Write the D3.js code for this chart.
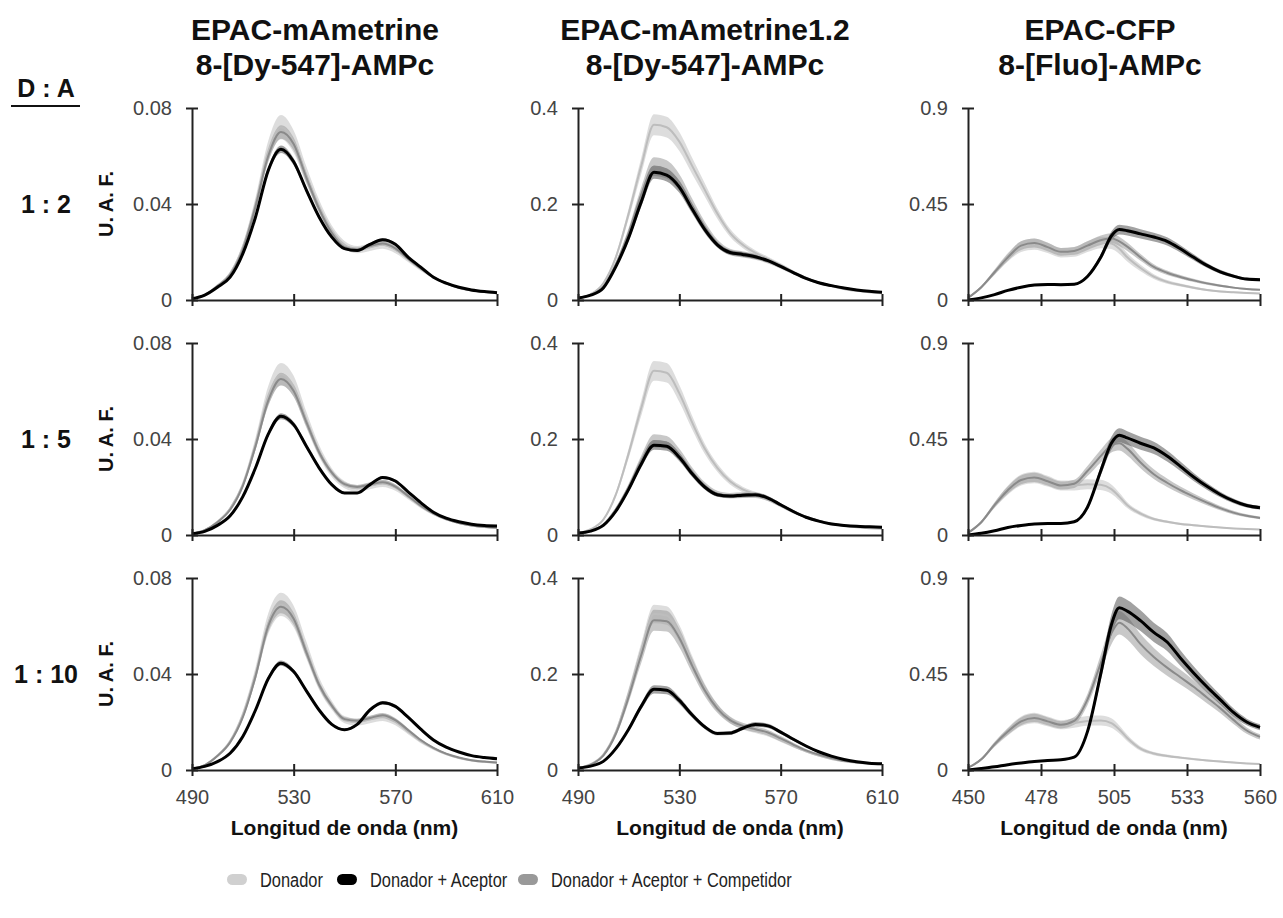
<!DOCTYPE html>
<html>
<head>
<meta charset="utf-8">
<script src="https://cdn.jsdelivr.net/npm/d3@7"></script>
<style>
  body { margin: 0; background: #fff; }
  svg { font-family: "Liberation Sans", Arial, Helvetica, sans-serif; }
  .axis path, .axis line { stroke: #222; stroke-width: 2; }
  .axis text { font-size: 20px; fill: #444; }
</style>
</head>
<body>
<script>
// column / row labels
var colTitles = [["EPAC-mAmetrine", "8-[Dy-547]-AMPc"],
                 ["EPAC-mAmetrine1.2", "8-[Dy-547]-AMPc"],
                 ["EPAC-CFP", "8-[Fluo]-AMPc"]];
var ratios = ["1 : 2", "1 : 5", "1 : 10"];
var seriesNames = ["Donador", "Donador + Aceptor", "Donador + Aceptor + Competidor"];

// wavelengths (nm)
var wlAmet = [490,495,500,505,510,515,520,525,530,535,540,545,550,555,560,565,570,575,580,585,590,595,600,605,610];
var wlCfp  = [450,455,460,465,470,475,480,485,490,495,500,504,507,510,515,520,525,530,535,540,545,550,555,560];

// axes
var xDomain = [[490, 610], [490, 610], [450, 560]];
var xTicks = [[490,530,570,610], [490,530,570,610], [450,477.5,505,532.5,560]];
var xTickLabels = [["490","530","570","610"], ["490","530","570","610"], ["450","478","505","533","560"]];
var yMax = [0.08, 0.4, 0.9];
var yTicks = [[0,0.04,0.08], [0,0.2,0.4], [0,0.45,0.9]];
var yTickLabels = [["0","0.04","0.08"], ["0","0.2","0.4"], ["0","0.45","0.9"]];

// relative spread of the shaded bands, per column: [donador, d+a, d+a+c]
var relErr = [[0.07, 0.025, 0.04], [0.06, 0.05, 0.07], [0.10, 0.07, 0.08]];

// --- EPAC-mAmetrine, 8-[Dy-547]-AMPc
var m1r1Don = [0.0005,0.002,0.006,0.011,0.022,0.04,0.062,0.072,0.066,0.052,0.039,0.029,0.023,0.021,0.022,0.023,0.021,0.017,0.013,0.0095,0.007,0.005,0.004,0.0033,0.0028];
var m1r1DA  = [0.0005,0.002,0.0053,0.0095,0.0193,0.0346,0.054,0.0628,0.0576,0.0458,0.0346,0.0262,0.0214,0.0206,0.0232,0.0251,0.0232,0.0179,0.0137,0.0095,0.007,0.0053,0.0042,0.0035,0.003];
var m1r1DAC = [0.0005,0.002,0.0058,0.0105,0.021,0.039,0.06,0.07,0.065,0.051,0.038,0.028,0.022,0.021,0.0225,0.0235,0.0215,0.0172,0.0132,0.0095,0.007,0.0052,0.004,0.0034,0.003];

var m1r2Don = [0.0005,0.002,0.0055,0.011,0.021,0.038,0.058,0.067,0.062,0.048,0.035,0.026,0.021,0.0195,0.0205,0.0215,0.0198,0.016,0.012,0.0088,0.0065,0.005,0.004,0.0033,0.003];
var m1r2DA  = [0.0005,0.0015,0.004,0.008,0.016,0.028,0.042,0.0495,0.046,0.037,0.028,0.021,0.0175,0.0175,0.021,0.024,0.0225,0.018,0.0135,0.0095,0.007,0.0055,0.0045,0.004,0.0038];
var m1r2DAC = [0.0005,0.002,0.0053,0.0105,0.0205,0.037,0.056,0.065,0.06,0.047,0.0345,0.026,0.0212,0.02,0.021,0.022,0.0202,0.0163,0.0122,0.009,0.0066,0.005,0.004,0.0034,0.003];

var m1r3Don = [0.0005,0.002,0.006,0.012,0.023,0.04,0.061,0.069,0.064,0.05,0.036,0.027,0.021,0.02,0.021,0.022,0.02,0.016,0.012,0.009,0.0066,0.005,0.004,0.0034,0.003];
var m1r3DA  = [0.0005,0.0015,0.0035,0.007,0.014,0.025,0.038,0.0445,0.041,0.033,0.025,0.019,0.0168,0.019,0.025,0.028,0.0265,0.022,0.017,0.0125,0.0095,0.0075,0.006,0.0052,0.0047];
var m1r3DAC = [0.0005,0.002,0.0058,0.0115,0.022,0.039,0.06,0.068,0.063,0.049,0.0355,0.0268,0.0212,0.0205,0.0217,0.0228,0.0208,0.0167,0.0125,0.0092,0.0068,0.0052,0.0041,0.0035,0.0031];

// --- EPAC-mAmetrine1.2, 8-[Dy-547]-AMPc
var m2r1Don = [0.004,0.012,0.035,0.09,0.18,0.28,0.365,0.36,0.33,0.28,0.23,0.18,0.14,0.115,0.098,0.085,0.072,0.058,0.046,0.036,0.029,0.023,0.019,0.016,0.014];
var m2r1DA  = [0.004,0.01,0.025,0.07,0.13,0.205,0.266,0.26,0.235,0.19,0.147,0.115,0.099,0.095,0.09,0.082,0.07,0.057,0.045,0.036,0.03,0.025,0.021,0.018,0.016];
var m2r1DAC = [0.004,0.011,0.028,0.075,0.14,0.22,0.278,0.272,0.245,0.198,0.153,0.118,0.1,0.095,0.09,0.082,0.07,0.057,0.045,0.036,0.03,0.025,0.021,0.018,0.016];

var m2r2Don = [0.004,0.012,0.032,0.085,0.17,0.265,0.342,0.338,0.295,0.235,0.18,0.14,0.112,0.095,0.085,0.075,0.062,0.049,0.038,0.03,0.024,0.019,0.016,0.014,0.013];
var m2r2DA  = [0.004,0.008,0.02,0.05,0.095,0.148,0.187,0.185,0.162,0.128,0.1,0.084,0.081,0.083,0.084,0.077,0.063,0.049,0.037,0.029,0.023,0.02,0.018,0.017,0.016];
var m2r2DAC = [0.004,0.009,0.022,0.054,0.1,0.155,0.196,0.193,0.168,0.132,0.103,0.086,0.082,0.083,0.083,0.076,0.062,0.048,0.037,0.029,0.023,0.02,0.018,0.017,0.016];

var m2r3Don = [0.004,0.012,0.032,0.08,0.16,0.25,0.325,0.322,0.285,0.225,0.17,0.13,0.104,0.09,0.082,0.074,0.062,0.05,0.039,0.03,0.023,0.018,0.015,0.013,0.012];
var m2r3DA  = [0.004,0.008,0.018,0.045,0.085,0.133,0.168,0.166,0.145,0.115,0.09,0.076,0.077,0.087,0.095,0.092,0.079,0.064,0.05,0.038,0.029,0.022,0.017,0.014,0.013];
var m2r3DAC = [0.004,0.011,0.03,0.076,0.152,0.24,0.312,0.31,0.275,0.218,0.166,0.128,0.104,0.092,0.085,0.078,0.066,0.053,0.041,0.032,0.025,0.019,0.016,0.014,0.013];

// --- EPAC-CFP, 8-[Fluo]-AMPc
var cr1Don = [0.01,0.06,0.13,0.2,0.25,0.262,0.245,0.222,0.225,0.25,0.27,0.265,0.24,0.2,0.15,0.11,0.085,0.07,0.057,0.047,0.04,0.036,0.033,0.03];
var cr1DA  = [0,0.01,0.025,0.045,0.06,0.07,0.073,0.072,0.074,0.11,0.2,0.3,0.33,0.325,0.31,0.295,0.275,0.24,0.2,0.162,0.132,0.112,0.098,0.095];
var cr1DAC = [0.01,0.06,0.13,0.2,0.255,0.267,0.248,0.226,0.23,0.255,0.28,0.29,0.275,0.25,0.2,0.155,0.128,0.108,0.092,0.078,0.067,0.058,0.052,0.048];

var cr2Don = [0.01,0.06,0.14,0.21,0.258,0.27,0.252,0.232,0.232,0.238,0.235,0.215,0.18,0.14,0.1,0.075,0.062,0.052,0.046,0.04,0.035,0.031,0.028,0.026];
var cr2DA  = [0,0.008,0.02,0.035,0.045,0.052,0.054,0.054,0.062,0.13,0.3,0.43,0.468,0.455,0.43,0.408,0.37,0.322,0.272,0.228,0.19,0.16,0.138,0.128];
var cr2DAC = [0.01,0.06,0.14,0.21,0.258,0.27,0.252,0.232,0.24,0.3,0.37,0.42,0.43,0.405,0.34,0.285,0.245,0.21,0.18,0.152,0.126,0.105,0.09,0.08];

var cr3Don = [0.01,0.05,0.12,0.18,0.228,0.244,0.228,0.212,0.22,0.23,0.232,0.22,0.19,0.15,0.1,0.077,0.066,0.058,0.051,0.045,0.04,0.035,0.031,0.028];
var cr3DA  = [0,0.007,0.015,0.025,0.033,0.04,0.045,0.048,0.06,0.18,0.45,0.68,0.76,0.745,0.7,0.645,0.6,0.525,0.455,0.39,0.33,0.27,0.225,0.2];
var cr3DAC = [0.01,0.05,0.12,0.18,0.228,0.244,0.228,0.212,0.23,0.33,0.5,0.64,0.69,0.665,0.59,0.53,0.48,0.435,0.39,0.34,0.29,0.235,0.185,0.155];

// panels[row][col] = [donador, d+a, d+a+c]
var panels = [
  [[m1r1Don, m1r1DA, m1r1DAC], [m2r1Don, m2r1DA, m2r1DAC], [cr1Don, cr1DA, cr1DAC]],
  [[m1r2Don, m1r2DA, m1r2DAC], [m2r2Don, m2r2DA, m2r2DAC], [cr2Don, cr2DA, cr2DAC]],
  [[m1r3Don, m1r3DA, m1r3DAC], [m2r3Don, m2r3DA, m2r3DAC], [cr3Don, cr3DA, cr3DAC]]
];
var wls = [wlAmet, wlAmet, wlCfp];

// layout
var width = 1283, height = 918;
var colLeft = [192, 578, 968], colRight = [497, 882, 1260];
var rowTop = [108, 343, 578], rowBottom = [300, 535, 770];
var titleX = [315, 705, 1100];
var legendX = [227, 337, 518];

var lineColor = ["#bdbdbd", "#000", "#8a8a8a"];
var lineWidth = [2, 3, 2];
var bandColor = ["#d4d4d4", "#555", "#9a9a9a"];
var bandOpacity = [0.8, 0.55, 0.55];
var swatchColor = ["#d0d0d0", "#000", "#999"];
var drawOrder = [0, 2, 1];

var svg = d3.select("body").append("svg")
    .attr("width", width).attr("height", height);

// column titles
colTitles.forEach(function(t, c) {
  var g = svg.append("text")
      .attr("text-anchor", "middle")
      .attr("font-weight", "bold")
      .attr("font-size", 30)
      .attr("fill", "#111");
  g.append("tspan").attr("x", titleX[c]).attr("y", 40).text(t[0]);
  g.append("tspan").attr("x", titleX[c]).attr("y", 75).text(t[1]);
});

// D : A header
svg.append("text").attr("x", 46).attr("y", 97)
    .attr("text-anchor", "middle").attr("font-weight", "bold")
    .attr("font-size", 25).attr("fill", "#111").text("D : A");
svg.append("line").attr("x1", 11).attr("x2", 80).attr("y1", 106).attr("y2", 106)
    .attr("stroke", "#111").attr("stroke-width", 2);

for (var r = 0; r < 3; r++) {
  var midY = (rowTop[r] + rowBottom[r]) / 2;
  svg.append("text").attr("x", 46).attr("y", midY + 9)
      .attr("text-anchor", "middle").attr("font-weight", "bold")
      .attr("font-size", 25).attr("fill", "#111").text(ratios[r]);
  svg.append("text")
      .attr("transform", "translate(113," + midY + ") rotate(-90)")
      .attr("text-anchor", "middle").attr("font-weight", "bold")
      .attr("font-size", 20).attr("fill", "#111").text("U. A. F.");

  for (var c = 0; c < 3; c++) {
    drawPanel(r, c);
  }
}

function drawPanel(r, c) {
  var x = d3.scaleLinear().domain(xDomain[c]).range([colLeft[c], colRight[c]]);
  var y = d3.scaleLinear().domain([0, yMax[c]]).range([rowBottom[r], rowTop[r]]);
  var wl = wls[c];
  var g = svg.append("g");

  var area = d3.area()
      .x(function(d) { return x(d.wl); })
      .y0(function(d) { return y(d.v * (1 - d.e)); })
      .y1(function(d) { return y(Math.min(d.v * (1 + d.e), yMax[c])); })
      .curve(d3.curveMonotoneX);
  var line = d3.line()
      .x(function(d) { return x(d.wl); })
      .y(function(d) { return y(d.v); })
      .curve(d3.curveMonotoneX);

  var series = panels[r][c].map(function(vals, s) {
    return vals.map(function(v, i) { return {wl: wl[i], v: v, e: relErr[c][s]}; });
  });

  drawOrder.forEach(function(s) {
    g.append("path").datum(series[s])
        .attr("d", area)
        .attr("fill", bandColor[s]).attr("fill-opacity", bandOpacity[s]);
  });
  drawOrder.forEach(function(s) {
    g.append("path").datum(series[s])
        .attr("d", line)
        .attr("fill", "none")
        .attr("stroke", lineColor[s]).attr("stroke-width", lineWidth[s])
        .attr("stroke-linejoin", "round");
  });

  var ya = svg.append("g").attr("class", "axis")
      .attr("transform", "translate(" + colLeft[c] + ",0)")
      .call(d3.axisLeft(y).tickValues(yTicks[c])
        .tickFormat(function(d, i) { return yTickLabels[c][i]; })
        .tickSizeInner(6).tickSizeOuter(0).tickPadding(14));
  ya.selectAll(".tick line").attr("x1", 6);
  ya.selectAll("text").attr("font-family", null).attr("font-size", null);

  var xa = svg.append("g").attr("class", "axis")
      .attr("transform", "translate(0," + rowBottom[r] + ")")
      .call(d3.axisBottom(x).tickValues(xTicks[c])
        .tickFormat(function(d, i) { return xTickLabels[c][i]; })
        .tickSizeInner(6).tickSizeOuter(0).tickPadding(14));
  xa.selectAll(".tick line").attr("y1", -6);
  xa.selectAll("text").attr("font-family", null).attr("font-size", null);
  if (r < 2) xa.selectAll("text").remove();

  if (r == 2) {
    svg.append("text")
        .attr("x", (colLeft[c] + colRight[c]) / 2).attr("y", 835)
        .attr("text-anchor", "middle").attr("font-weight", "bold")
        .attr("font-size", 21).attr("fill", "#111")
        .text("Longitud de onda (nm)");
  }
}

// legend (the reference uses a condensed face, so squeeze the text)
var legend = svg.append("g").attr("class", "legend");
seriesNames.forEach(function(name, s) {
  legend.append("rect").attr("x", legendX[s]).attr("y", 874).attr("width", 20).attr("height", 11)
      .attr("rx", 5.5).attr("fill", swatchColor[s]);
  var t = legend.append("text").attr("x", legendX[s] + 33).attr("y", 887)
      .attr("font-size", 20).attr("fill", "#222").text(name);
  var w = t.node().getComputedTextLength();
  t.attr("textLength", w * 0.82).attr("lengthAdjust", "spacingAndGlyphs");
});
</script>
</body>
</html>
